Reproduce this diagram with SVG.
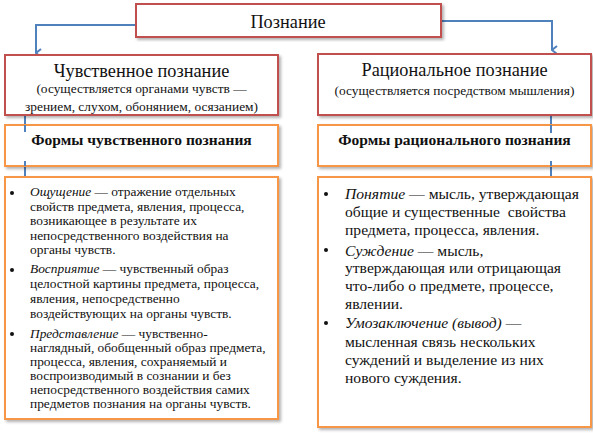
<svg xmlns="http://www.w3.org/2000/svg" width="593" height="435" viewBox="0 0 593 435">
<style>
text{font-family:'Liberation Serif','Times New Roman',serif;fill:#111}
.red{fill:#fff;stroke:#c0504d;stroke-width:2}
.org{fill:#fff;stroke:#f79646;stroke-width:2}
.con{fill:none;stroke:#4f81bd;stroke-width:2}
.t1{font-size:18.3px;text-anchor:middle}
.sub{font-size:13.4px;text-anchor:middle}
.fh{font-size:15.5px;font-weight:bold;text-anchor:middle}
.lt{font-size:13.4px}
.rt{font-size:15.6px}
.i{font-style:italic}
</style>
<defs>
<filter id="sh" x="-5%" y="-5%" width="115%" height="120%">
<feDropShadow dx="2" dy="2" stdDeviation="1.5" flood-color="#000" flood-opacity="0.3"/>
</filter>
<marker id="ar" viewBox="0 0 10 10" refX="5" refY="9" markerWidth="10" markerHeight="10" markerUnits="userSpaceOnUse" orient="auto-start-reverse">
<path d="M1,4 L5,9 L9,4" fill="none" stroke="#4f81bd" stroke-width="2"/>
</marker>
</defs>
<g id="connectors">
<path class="con" d="M137,25 H36 V53" marker-end="url(#ar)"/>
<path class="con" d="M441,21 H552 V50" marker-end="url(#ar)"/>
<path class="con" d="M25,113 V132 M25,161 V182"/>
<path class="con" d="M551,113 V133 M551,161 V182"/>
</g>
<g id="root">
<rect class="red" x="136" y="4" width="305" height="33" filter="url(#sh)"/>
<text class="t1" x="288" y="27.5">Познание</text>
</g>
<g id="sensory">
<rect class="red" x="5" y="55" width="273" height="60" filter="url(#sh)"/>
<text class="t1" x="141.5" y="77">Чувственное познание</text>
<text class="sub" x="141.5" y="92.5">(осуществляется органами чувств —</text>
<text class="sub" x="141.5" y="110.5">зрением, слухом, обонянием, осязанием)</text>
</g>
<g id="rational">
<rect class="red" x="318" y="54" width="273" height="61" filter="url(#sh)"/>
<text class="t1" x="454.5" y="76">Рациональное познание</text>
<text class="sub" x="454.5" y="94.5">(осуществляется посредством мышления)</text>
</g>
<g id="sensory-forms">
<rect class="org" x="5" y="125" width="273" height="41" filter="url(#sh)"/>
<text class="fh" x="141.5" y="144.5">Формы чувственного познания</text>
</g>
<g id="rational-forms">
<rect class="org" x="318" y="125" width="273" height="41" filter="url(#sh)"/>
<text class="fh" x="454.5" y="144.5">Формы рационального познания</text>
</g>
<g id="connector-overlay">
<path class="con" d="M25,125 V132 M25,161 V166 M551,125 V133 M551,161 V166"/>
</g>
<g id="sensory-list">
<rect class="org" x="5" y="177" width="273" height="242" filter="url(#sh)"/>
<circle cx="12" cy="193" r="2" fill="#111"/>
<circle cx="12" cy="270" r="2" fill="#111"/>
<circle cx="12" cy="334" r="2" fill="#111"/>
<text class="lt" x="30" y="196"><tspan class="i">Ощущение</tspan> — отражение отдельных</text>
<text class="lt" x="30" y="210.5">свойств предмета, явления, процесса,</text>
<text class="lt" x="30" y="225">возникающее в результате их</text>
<text class="lt" x="30" y="239.5">непосредственного воздействия на</text>
<text class="lt" x="30" y="254">органы чувств.</text>
<text class="lt" x="30" y="273"><tspan class="i">Восприятие</tspan> — чувственный образ</text>
<text class="lt" x="30" y="288">целостной картины предмета, процесса,</text>
<text class="lt" x="30" y="303">явления, непосредственно</text>
<text class="lt" x="30" y="318">воздействующих на органы чувств.</text>
<text class="lt" x="30" y="337.5"><tspan class="i">Представление</tspan> — чувственно-</text>
<text class="lt" x="30" y="351.5">наглядный, обобщенный образ предмета,</text>
<text class="lt" x="30" y="366">процесса, явления, сохраняемый и</text>
<text class="lt" x="30" y="380">воспроизводимый в сознании и без</text>
<text class="lt" x="30" y="394">непосредственного воздействия самих</text>
<text class="lt" x="30" y="408">предметов познания на органы чувств.</text>
</g>
<g id="rational-list">
<rect class="org" x="318" y="177" width="273" height="250" filter="url(#sh)"/>
<circle cx="326" cy="194" r="2" fill="#111"/>
<circle cx="326" cy="250" r="2" fill="#111"/>
<circle cx="326" cy="323" r="2" fill="#111"/>
<text class="rt" x="345" y="198.5" textLength="234" lengthAdjust="spacingAndGlyphs"><tspan class="i">Понятие</tspan> — мысль, утверждающая</text>
<text class="rt" x="345" y="216.5" xml:space="preserve">общие и существенные  свойства</text>
<text class="rt" x="345" y="234.5">предмета, процесса, явления.</text>
<text class="rt" x="345" y="255.5"><tspan class="i">Суждение</tspan> — мысль,</text>
<text class="rt" x="345" y="272.5">утверждающая или отрицающая</text>
<text class="rt" x="345" y="290.5">что-либо о предмете, процессе,</text>
<text class="rt" x="345" y="308.5">явлении.</text>
<text class="rt" x="345" y="327.5"><tspan class="i">Умозаключение (вывод)</tspan> —</text>
<text class="rt" x="345" y="346.5">мысленная связь нескольких</text>
<text class="rt" x="345" y="364.5">суждений и выделение из них</text>
<text class="rt" x="345" y="382.5">нового суждения.</text>
</g>
</svg>
